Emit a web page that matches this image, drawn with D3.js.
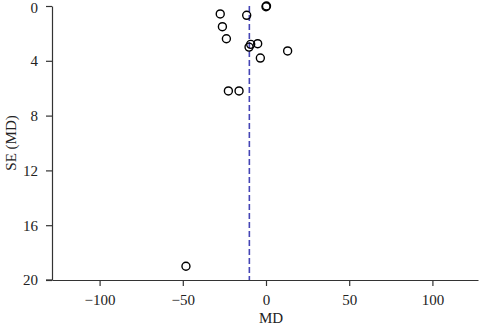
<!DOCTYPE html>
<html><head><meta charset="utf-8">
<script src="https://cdn.jsdelivr.net/npm/d3@7"></script>
<style>body{margin:0;background:#fff}svg{display:block}text{font-family:"Liberation Serif","DejaVu Serif",serif;}</style>
</head><body>
<script>
const mdValues = [0, 0.3, -27.5, -11.6, -26.2, -23.8, -5.0, -9.2, -10.2, 13.0, -3.4, -22.6, -16.2, -48.1];
const seValues = [0.05, 0.0, 0.58, 0.68, 1.51, 2.39, 2.75, 2.8, 3.0, 3.28, 3.8, 6.2, 6.2, 19.0];
const xTicks = [-100, -50, 0, 50, 100];
const yTicks = [0, 4, 8, 12, 16, 20];
const pooledMD = -10;

const W = 480, H = 326;
const svg = d3.select("body").append("svg").attr("width", W).attr("height", H);
const x = d3.scaleLinear().domain([-128.6, 127.4]).range([52, 478]);
const y = d3.scaleLinear().domain([0, 20]).range([6, 280]);

const fmt = d => d < 0 ? "\u2212" + Math.abs(d) : String(d);

const xa = svg.append("g").attr("transform", "translate(0,280)")
  .call(d3.axisBottom(x).tickValues(xTicks).tickFormat(fmt).tickSize(6).tickPadding(8).tickSizeOuter(0));
const ya = svg.append("g").attr("transform", "translate(52,0)")
  .call(d3.axisLeft(y).tickValues(yTicks).tickSize(6).tickPadding(8).tickSizeOuter(0));
[xa, ya].forEach(a => {
  a.select(".domain").attr("stroke", "#333").attr("stroke-width", 1.2);
  a.selectAll(".tick line").attr("stroke", "#333").attr("stroke-width", 1.2);
  a.selectAll("text").attr("font-size", 15).attr("fill", "#222").attr("font-family", "Liberation Serif");
});
ya.selectAll(".tick text").filter(d => d === 0).attr("dy", "0.4em");
// extend x axis line to left tick
svg.append("line").attr("x1", 46).attr("x2", 52).attr("y1", 280).attr("y2", 280).attr("stroke", "#333").attr("stroke-width", 1.2);

svg.append("line").attr("x1", x(pooledMD)).attr("x2", x(pooledMD)).attr("y1", y(0)).attr("y2", y(20))
  .attr("stroke", "#4545b5").attr("stroke-width", 1.6).attr("stroke-dasharray", "6,3");

svg.append("g").selectAll("circle").data(mdValues.map((d, i) => [d, seValues[i]])).join("circle")
  .attr("cx", d => x(d[0])).attr("cy", d => y(d[1])).attr("r", 4)
  .attr("fill", "none").attr("stroke", "#000").attr("stroke-width", 1.4);

svg.append("text").attr("x", 271).attr("y", 323).attr("text-anchor", "middle").attr("font-size", 15).attr("fill", "#222").text("MD");
svg.append("text").attr("transform", "translate(15.5,143) rotate(-90)").attr("text-anchor", "middle").attr("font-size", 15).attr("fill", "#222").text("SE (MD)");
</script>
</body></html>
